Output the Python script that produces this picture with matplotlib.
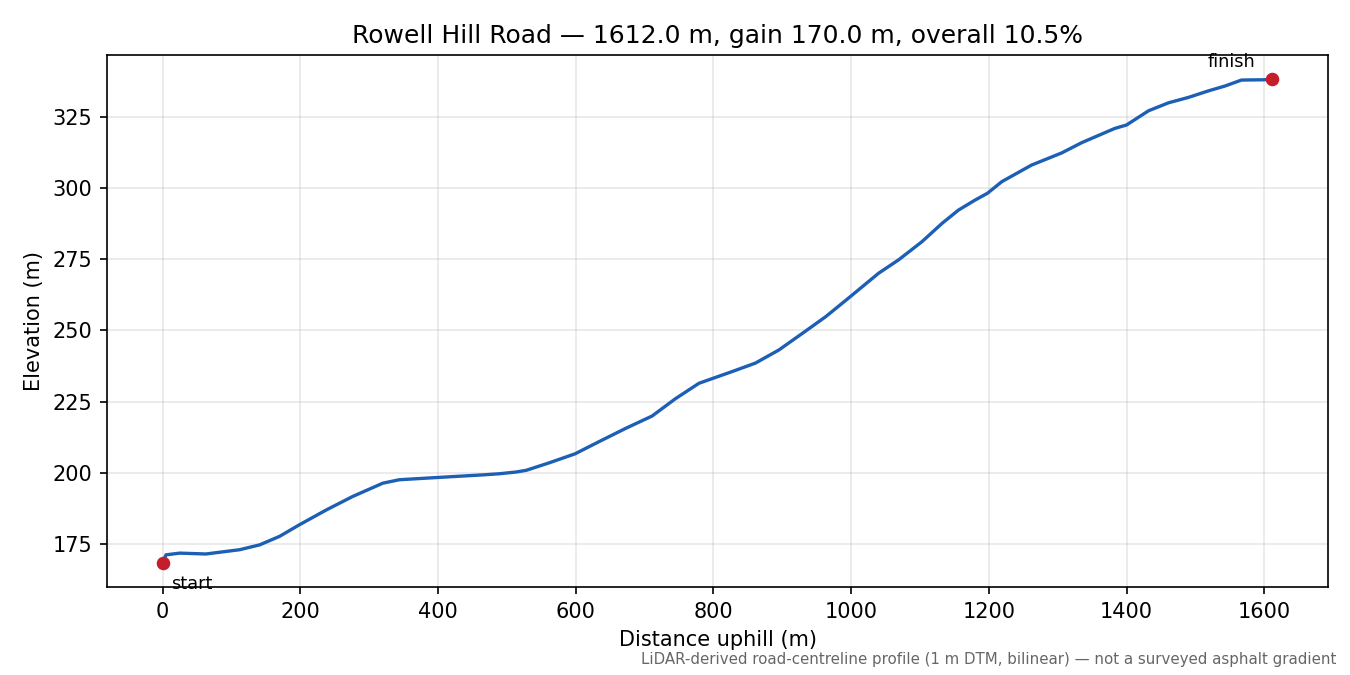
import numpy as np
import matplotlib
matplotlib.use("Agg")
import matplotlib.pyplot as plt

# profile (distance uphill m, elevation m)
dist = [0, 5, 25, 63, 112, 141, 170, 199, 238, 276, 320, 344, 400, 465, 489,
        513, 528, 561, 599, 634, 673, 711, 745, 779, 800, 827, 861, 895, 933,
        963, 994, 1040, 1069, 1103, 1132, 1156, 1180, 1198, 1219, 1262, 1306,
        1335, 1383, 1400, 1432, 1461, 1490, 1519, 1543, 1567, 1600, 1612]
elev = [168.3, 171.1, 171.7, 171.4, 172.9, 174.6, 177.6, 181.7, 186.9, 191.6,
        196.3, 197.5, 198.3, 199.2, 199.6, 200.2, 200.8, 203.4, 206.6, 210.9,
        215.6, 219.9, 226.0, 231.4, 233.2, 235.5, 238.5, 243.1, 249.6, 254.8,
        260.9, 270.1, 274.8, 281.2, 287.6, 292.3, 295.8, 298.2, 302.3, 308.1,
        312.4, 316.0, 321.0, 322.2, 327.2, 330.0, 331.9, 334.2, 335.9, 338.0,
        338.1, 338.3]

name = "Rowell Hill Road"
note = "LiDAR-derived road-centreline profile (1 m DTM, bilinear) \u2014 not a surveyed asphalt gradient"

length = dist[-1]
gain = elev[-1] - elev[0]

fig, ax = plt.subplots(figsize=(9, 4.5), dpi=150)
fig.subplots_adjust(left=0.0793, right=0.9837, top=0.9185, bottom=0.1304)

ax.plot(dist, elev, color="#1c5fb5", lw=1.6, zorder=2)
ax.plot([dist[0], dist[-1]], [elev[0], elev[-1]], "o", color="#c41e2d", ms=5.5, zorder=3)

ax.annotate("start", (dist[0], elev[0]), xytext=(4, -12.5), textcoords="offset points",
            fontsize=8.5, ha="left")
ax.annotate("finish", (dist[-1], elev[-1]), xytext=(-8, 6), textcoords="offset points",
            fontsize=8.5, ha="right")

ax.set_title(f"{name} \u2014 {length:.1f} m, gain {gain:.1f} m, overall {gain / length * 100:.1f}%",
             fontsize=12)
ax.set_xlabel("Distance uphill (m)", fontsize=10)
ax.set_ylabel("Elevation (m)", fontsize=10)
ax.grid(True, alpha=0.3)

fig.text(0.99, 0.012, note, ha="right", va="bottom", fontsize=7.2, color="#666666")

fig.savefig("out.png", dpi=150)
